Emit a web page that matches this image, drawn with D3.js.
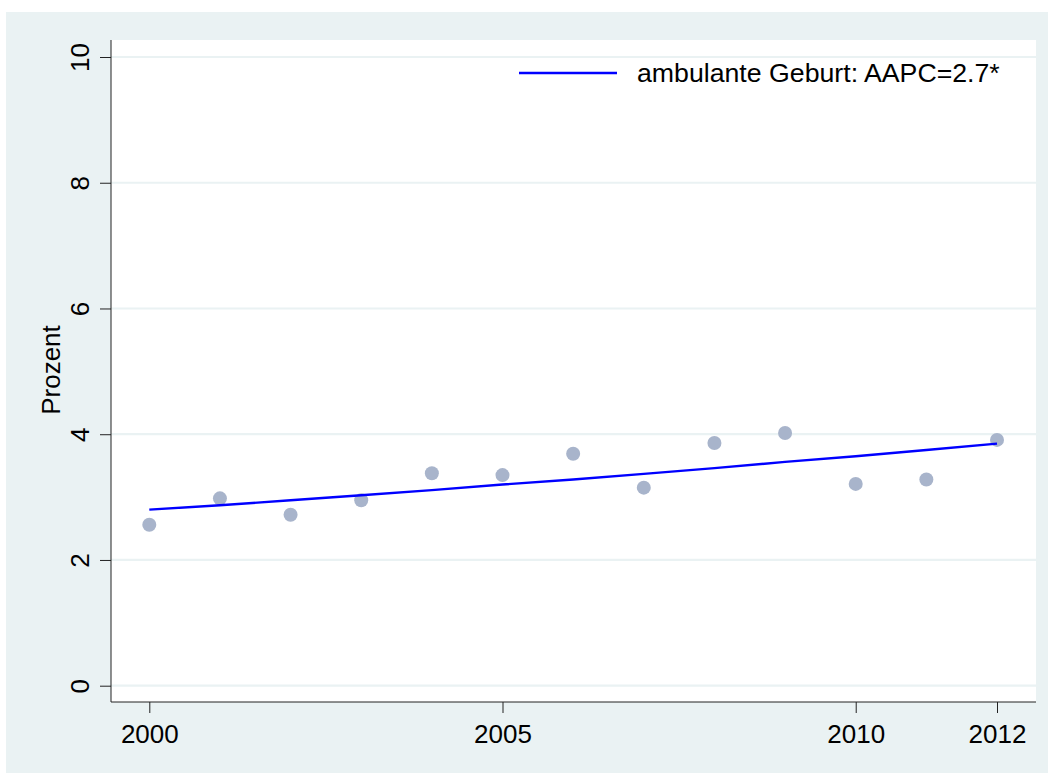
<!DOCTYPE html>
<html>
<head>
<meta charset="utf-8">
<script src="https://cdn.jsdelivr.net/npm/d3@7"></script>
<style>
  body { margin: 0; background: #fff; }
  text { font-family: "Liberation Sans", Arial, sans-serif; fill: #000; }
</style>
</head>
<body>
<svg width="1048" height="773"></svg>
<script>
const years = [2000, 2001, 2002, 2003, 2004, 2005, 2006, 2007, 2008, 2009, 2010, 2011, 2012];
const observed = [2.56, 2.98, 2.72, 2.95, 3.38, 3.35, 3.69, 3.15, 3.86, 4.02, 3.21, 3.28, 3.91];
const fitted = [2.80, 2.87, 2.95, 3.03, 3.11, 3.20, 3.28, 3.37, 3.46, 3.56, 3.65, 3.75, 3.85];
const xTicks = [2000, 2005, 2010, 2012];
const yTicks = [0, 2, 4, 6, 8, 10];
const legendLabel = "ambulante Geburt: AAPC=2.7*";
const yTitle = "Prozent";

const svg = d3.select("svg");
const bg = "#eaf2f3";

// outer background
svg.append("rect")
  .attr("x", 6).attr("y", 12)
  .attr("width", 1042).attr("height", 761)
  .attr("fill", bg);

const plot = {left: 111, right: 1036, top: 40, bottom: 702};

svg.append("rect")
  .attr("x", plot.left).attr("y", plot.top)
  .attr("width", plot.right - plot.left).attr("height", plot.bottom - plot.top)
  .attr("fill", "#fff");

const x = d3.scaleLinear().domain([2000, 2012]).range([149.3, 997]);
const y = d3.scaleLinear().domain([0, 10]).range([685.7, 57]);

// grid
svg.append("g").selectAll("line")
  .data(yTicks)
  .enter().append("line")
    .attr("x1", plot.left).attr("x2", plot.right)
    .attr("y1", d => y(d)).attr("y2", d => y(d))
    .attr("stroke", bg)
    .attr("stroke-width", 2.2);

// y axis
const yAxis = svg.append("g")
  .attr("transform", `translate(${plot.left},0)`)
  .call(d3.axisLeft(y).tickValues(yTicks).tickSize(11).tickPadding(0).tickFormat(d3.format("d")));
yAxis.select(".domain").attr("d", `M0,${plot.top}V${plot.bottom}`).attr("stroke", "#222");
yAxis.selectAll(".tick line").attr("stroke", "#222");
yAxis.selectAll(".tick text")
  .attr("x", null).attr("dy", null)
  .attr("transform", "translate(-22,0) rotate(-90)")
  .attr("text-anchor", "middle")
  .attr("font-size", 26)
  .attr("font-family", "Liberation Sans, Arial, sans-serif")
  .attr("fill", "#000");

// x axis
const xAxis = svg.append("g")
  .attr("transform", `translate(0,${plot.bottom})`)
  .call(d3.axisBottom(x).tickValues(xTicks).tickSize(11).tickPadding(0).tickFormat(d3.format("d")));
xAxis.select(".domain").attr("d", `M${plot.left},0H${plot.right}`).attr("stroke", "#222");
xAxis.selectAll(".tick line").attr("stroke", "#222");
xAxis.selectAll(".tick text")
  .attr("y", 41).attr("dy", null)
  .attr("font-size", 26)
  .attr("font-family", "Liberation Sans, Arial, sans-serif")
  .attr("fill", "#000");

// y title
svg.append("text")
  .attr("transform", `translate(60,370) rotate(-90)`)
  .attr("text-anchor", "middle")
  .attr("font-size", 26)
  .text(yTitle);

// observed points
svg.append("g").selectAll("circle")
  .data(years)
  .enter().append("circle")
    .attr("cx", d => x(d))
    .attr("cy", (d, i) => y(observed[i]))
    .attr("r", 7)
    .attr("fill", "#a8b4cb");

// fitted line
const line = d3.line()
  .x(d => x(d))
  .y((d, i) => y(fitted[i]));

svg.append("path")
  .attr("d", line(years))
  .attr("fill", "none")
  .attr("stroke", "#0000ff")
  .attr("stroke-width", 2.4);

// legend
svg.append("line")
  .attr("x1", 519).attr("x2", 617)
  .attr("y1", 73).attr("y2", 73)
  .attr("stroke", "#0000ff")
  .attr("stroke-width", 2.4);
svg.append("text")
  .attr("x", 637).attr("y", 82)
  .attr("font-size", 26.7)
  .text(legendLabel);
</script>
</body>
</html>
